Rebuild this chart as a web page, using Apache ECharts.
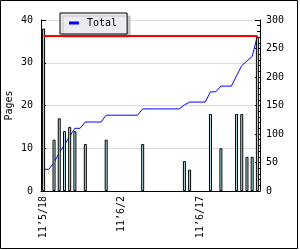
<!DOCTYPE html>
<html>
<head>
<meta charset="utf-8">
<script src="https://cdn.jsdelivr.net/npm/echarts@6/dist/echarts.min.js"></script>
<style>
  html, body { margin: 0; padding: 0; background: #fff; }
  #main { width: 300px; height: 250px; }
</style>
</head>
<body>
<div id="main"></div>
<script>
// 日期 (11'5/18 ~ 11'6/28)
var days = [
  '11’5/18', '11’5/19', '11’5/20', '11’5/21', '11’5/22', '11’5/23', '11’5/24',
  '11’5/25', '11’5/26', '11’5/27', '11’5/28', '11’5/29', '11’5/30', '11’5/31',
  '11’6/1', '11’6/2', '11’6/3', '11’6/4', '11’6/5', '11’6/6', '11’6/7',
  '11’6/8', '11’6/9', '11’6/10', '11’6/11', '11’6/12', '11’6/13', '11’6/14',
  '11’6/15', '11’6/16', '11’6/17', '11’6/18', '11’6/19', '11’6/20', '11’6/21',
  '11’6/22', '11’6/23', '11’6/24', '11’6/25', '11’6/26', '11’6/27', '11’6/28'
];
// 每日页数
var pages = [
  38, 0, 12, 17, 14, 15, 14, 0, 11, 0, 0, 0, 12, 0,
  0, 0, 0, 0, 0, 11, 0, 0, 0, 0, 0, 0, 0, 7,
  5, 0, 0, 0, 18, 0, 10, 0, 0, 18, 18, 8, 8, 36
];
// 累计 (右轴)
var total = [
  38, 38, 50, 67, 81, 96, 110, 110, 121, 121, 121, 121, 133, 133,
  133, 133, 133, 133, 133, 144, 144, 144, 144, 144, 144, 144, 144, 151,
  156, 156, 156, 156, 174, 174, 184, 184, 184, 202, 220, 228, 236, 272
];
var goal = 272;
var leftTicks = [0, 40, 10];   // min, max, interval
var rightTicks = [0, 300, 50];

var font = 'DejaVu Sans Mono';
var chart = echarts.init(document.getElementById('main'), null, { renderer: 'canvas' });

// 0 的柱子不画边框
var barData = pages.map(function (v) {
  return v === 0 ? { value: v, itemStyle: { borderWidth: 0 } } : v;
});

var option = {
  animation: false,
  textStyle: { fontFamily: font },
  graphic: [{
    type: 'rect',
    shape: { x: 0.5, y: 0.5, width: 297, height: 248 },
    style: { fill: 'none', stroke: '#000', lineWidth: 1 },
    z: 100
  }],
  legend: {
    data: ['Total'],
    left: 60,
    top: 13,
    icon: 'rect',
    itemWidth: 10,
    itemHeight: 3,
    padding: [4, 10, 5, 9],
    backgroundColor: '#ecebf2',
    borderColor: '#000',
    borderWidth: 1,
    shadowColor: '#c4c4c4',
    shadowBlur: 0,
    shadowOffsetX: 3,
    shadowOffsetY: 3,
    textStyle: { fontFamily: font, fontSize: 10, color: '#000', lineHeight: 12, padding: [0, 0, 0, 3] }
  },
  grid: { left: 41, right: 40, top: 20, bottom: 59, outerBoundsMode: 'none', containLabel: false },
  xAxis: {
    type: 'category',
    data: days,
    axisLine: { lineStyle: { color: '#000', width: 1 } },
    axisTick: { inside: true, length: 5, lineStyle: { color: '#000' } },
    axisLabel: {
      interval: 14,
      rotate: 90,
      margin: 5,
      fontFamily: font,
      fontSize: 10,
      color: '#000'
    },
    splitLine: { show: false }
  },
  yAxis: [{
    type: 'value',
    name: 'Pages',
    nameLocation: 'middle',
    nameGap: 27,
    nameMoveOverlap: false,
    nameTextStyle: { fontFamily: font, fontSize: 10, color: '#000' },
    min: leftTicks[0],
    max: leftTicks[1],
    interval: leftTicks[2],
    axisLine: { show: true, lineStyle: { color: '#000' } },
    axisTick: { show: true, inside: true, length: 5, lineStyle: { color: '#000' } },
    minorTick: { show: true, splitNumber: 2, length: 3, lineStyle: { color: '#000' } },
    axisLabel: { fontFamily: font, fontSize: 10, color: '#000', margin: 8 },
    splitLine: { lineStyle: { color: '#d8d8d8' } }
  }, {
    type: 'value',
    min: rightTicks[0],
    max: rightTicks[1],
    interval: rightTicks[2],
    position: 'right',
    axisLine: { show: true, lineStyle: { color: '#000' } },
    axisTick: { show: true, inside: true, length: 5, lineStyle: { color: '#000' } },
    minorTick: { show: true, splitNumber: 5, length: 3, lineStyle: { color: '#000' } },
    axisLabel: { fontFamily: font, fontSize: 10, color: '#000', margin: 6 },
    splitLine: { show: false }
  }],
  series: [{
    name: 'Total',
    type: 'line',
    yAxisIndex: 1,
    data: total,
    symbol: 'none',
    z: 2,
    lineStyle: { color: '#0000ff', width: 1 },
    itemStyle: { color: '#0000ff' },
    markLine: {
      silent: true,
      symbol: 'none',
      label: { show: false },
      lineStyle: { color: '#ff0000', width: 2, type: 'solid' },
      data: [[
        { coord: [days[0], goal] },
        { coord: [days[days.length - 1], goal] }
      ]]
    }
  }, {
    name: 'Pages',
    type: 'bar',
    yAxisIndex: 0,
    data: barData,
    barWidth: 3,
    z: 3,
    itemStyle: { color: '#b4e4ee', borderColor: '#000', borderWidth: 1 }
  }]
};

chart.setOption(option);
</script>
</body>
</html>
